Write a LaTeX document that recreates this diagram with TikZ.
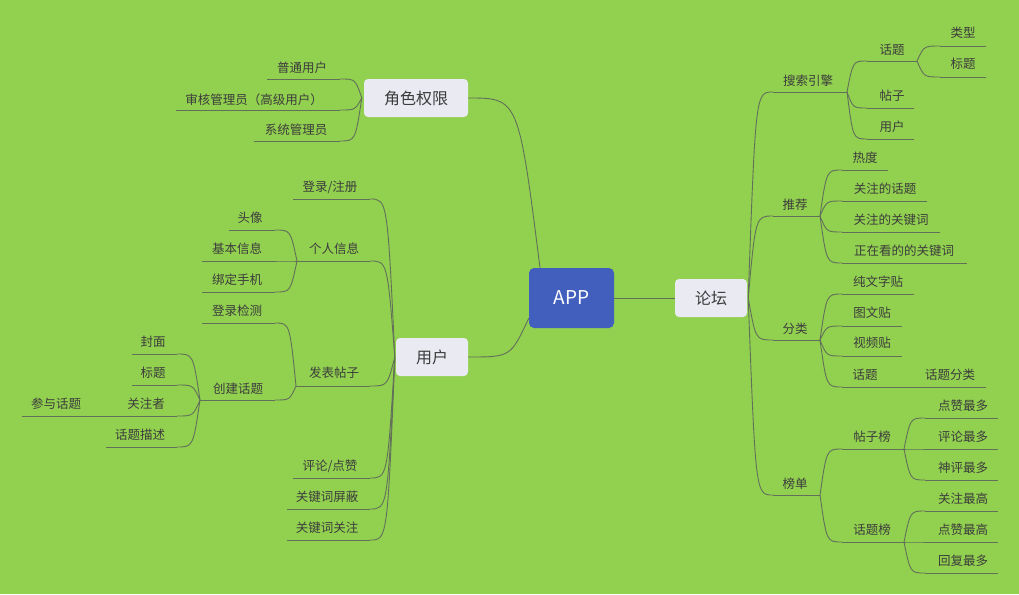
\documentclass[tikz,border=0pt]{standalone}
\usepackage{fontspec}
\setmainfont{Noto Sans CJK SC}
\usetikzlibrary{calc}
\definecolor{bg}{HTML}{92D050}
\definecolor{lnc}{HTML}{62705A}
\definecolor{txt}{HTML}{3C3C3C}
\definecolor{topicfill}{HTML}{E9EAF2}
\definecolor{appfill}{HTML}{425FBE}
\tikzset{
  lbl/.style={inner sep=0pt, text=txt, font=\fontsize{12.5}{14}\selectfont, text height=10.4pt, text depth=1.4pt},
  ln/.style={draw=lnc, line width=0.9pt},
  br/.style={to path={let \p1=(\tikztostart), \p2=(\tikztotarget) in .. controls ({\x1+0.3*(\x2-\x1)},\y2) .. (\tikztotarget)}},
  topic/.style={rounded corners=4pt, fill=topicfill, text=txt, inner sep=0pt, font=\fontsize{16}{18}\selectfont, minimum height=38pt},
  appbox/.style={rounded corners=5pt, fill=appfill, text=white, inner sep=0pt, font=\fontsize{19}{22}\selectfont, minimum width=85pt, minimum height=60pt}
}
\newcommand\mmtwig[7]{%
  \coordinate (#1-in) at (#2,#4);
  \coordinate (#1-out) at (#3,#4);
  \node[lbl] (#1) at (#5,#6) {#7};
  \draw[ln] (#1-in) -- (#1-out);
}
\begin{document}
\begin{tikzpicture}[x=1pt,y=-1pt]
\fill[bg] (0,0) rectangle (1019,594);
\useasboundingbox (0,0) rectangle (1019,594);

% central and main topics
\node[appbox] (app) at (571.5,298) {APP};
\node[topic, minimum width=104pt] (role) at (416,98) {角色权限};
\node[topic, minimum width=72pt] (user) at (432,357) {用户};
\node[topic, minimum width=72pt] (forum) at (711,298) {论坛};
\coordinate (appT) at ([xshift=-31.5pt]app.north);
\coordinate (appL) at ([yshift=10pt]app.south west);
\draw[ln] (app.east) -- (forum.west);
\draw[ln] (appT) to[br] (role.east);
\draw[ln] (appL) to[br] (user.east);

% ---- role ----
\coordinate (jR) at ([xshift=-2pt]role.west);
\mmtwig{r1}{340}{267}{79}{302}{68}{普通用户}
\mmtwig{r2}{340}{176}{110}{254}{100}{审核管理员（高级用户）}
\mmtwig{r3}{340}{254}{141}{296}{130}{系统管理员}
\foreach \c in {r1,r2,r3} \draw[ln] (jR) to[br] (\c-in);

% ---- user ----
\coordinate (jU) at ([xshift=-1pt]user.west);
\mmtwig{u1}{370}{293}{199}{330}{187}{登录/注册}
\mmtwig{u2}{370}{297}{261}{334}{249}{个人信息}
\mmtwig{u3}{370}{296}{386}{334}{373}{发表帖子}
\mmtwig{u4}{370}{293}{478}{330}{466}{评论/点赞}
\mmtwig{u5}{370}{287}{509}{327}{497}{关键词屏蔽}
\mmtwig{u6}{370}{287}{540}{327}{528}{关键词关注}
\foreach \c in {u1,u2,u3,u4,u5,u6} \draw[ln] (jU) to[br] (\c-in);

\mmtwig{u21}{275}{229}{230}{250}{218}{头像}
\mmtwig{u22}{275}{202}{261}{237}{249}{基本信息}
\mmtwig{u23}{275}{202}{292}{237}{280}{绑定手机}
\foreach \c in {u21,u22,u23} \draw[ln] (u2-out) to[br] (\c-in);

\mmtwig{u31}{275}{202}{323}{237}{311}{登录检测}
\mmtwig{u32}{275}{200}{400}{238}{389}{创建话题}
\foreach \c in {u31,u32} \draw[ln] (u3-out) to[br] (\c-in);

\mmtwig{u321}{177}{132}{354}{153}{342}{封面}
\mmtwig{u322}{177}{132}{385}{153}{373}{标题}
\mmtwig{u323}{177}{110}{416}{146}{404}{关注者}
\mmtwig{u324}{177}{106}{447}{140}{435}{话题描述}
\foreach \c in {u321,u322,u323,u324} \draw[ln] (u32-out) to[br] (\c-in);
\mmtwig{u3231}{110}{22}{416}{56}{404}{参与话题}
\draw[ln] (u323-out) -- (u3231-in);

% ---- forum ----
\coordinate (jF) at ([xshift=1pt]forum.east);
\mmtwig{f1}{773}{847}{92}{808}{81}{搜索引擎}
\mmtwig{f2}{773}{820}{216}{795}{205}{推荐}
\mmtwig{f3}{773}{820}{340}{795}{329}{分类}
\mmtwig{f4}{773}{820}{495}{795}{484}{榜单}
\foreach \c in {f1,f2,f3,f4} \draw[ln] (jF) to[br] (\c-in);

\mmtwig{f11}{867}{917}{61}{892}{50}{话题}
\mmtwig{f12}{867}{914}{108}{892}{96}{帖子}
\mmtwig{f13}{867}{914}{139}{892}{127}{用户}
\foreach \c in {f11,f12,f13} \draw[ln] (f1-out) to[br] (\c-in);
\mmtwig{f111}{940}{986}{46}{963}{33}{类型}
\mmtwig{f112}{940}{986}{77}{963}{64}{标题}
\foreach \c in {f111,f112} \draw[ln] (f11-out) to[br] (\c-in);

\mmtwig{f21}{842}{888}{170}{865}{158}{热度}
\mmtwig{f22}{842}{927}{201}{885}{189}{关注的话题}
\mmtwig{f23}{842}{940}{232}{891}{220}{关注的关键词}
\mmtwig{f24}{842}{967}{263}{904}{251}{正在看的的关键词}
\foreach \c in {f21,f22,f23,f24} \draw[ln] (f2-out) to[br] (\c-in);

\mmtwig{f31}{842}{914}{294}{878}{282}{纯文字贴}
\mmtwig{f32}{842}{902}{326}{872}{313}{图文贴}
\mmtwig{f33}{842}{902}{356}{872}{343}{视频贴}
\mmtwig{f34}{842}{905}{387}{865}{375}{话题}
\foreach \c in {f31,f32,f33,f34} \draw[ln] (f3-out) to[br] (\c-in);
\mmtwig{f341}{905}{986}{387}{950}{375}{话题分类}
\draw[ln] (f34-out) -- (f341-in);

\mmtwig{f41}{842}{904}{449}{872}{437}{帖子榜}
\mmtwig{f42}{842}{904}{542}{872}{530}{话题榜}
\foreach \c in {f41,f42} \draw[ln] (f4-out) to[br] (\c-in);
\mmtwig{f411}{925}{998}{418}{963}{406}{点赞最多}
\mmtwig{f412}{925}{998}{449}{963}{437}{评论最多}
\mmtwig{f413}{925}{998}{480}{963}{468}{神评最多}
\foreach \c in {f411,f412,f413} \draw[ln] (f41-out) to[br] (\c-in);
\mmtwig{f421}{925}{998}{511}{963}{499}{关注最高}
\mmtwig{f422}{925}{998}{542}{963}{530}{点赞最高}
\mmtwig{f423}{925}{998}{573}{963}{561}{回复最多}
\foreach \c in {f421,f422,f423} \draw[ln] (f42-out) to[br] (\c-in);
\end{tikzpicture}
\end{document}
